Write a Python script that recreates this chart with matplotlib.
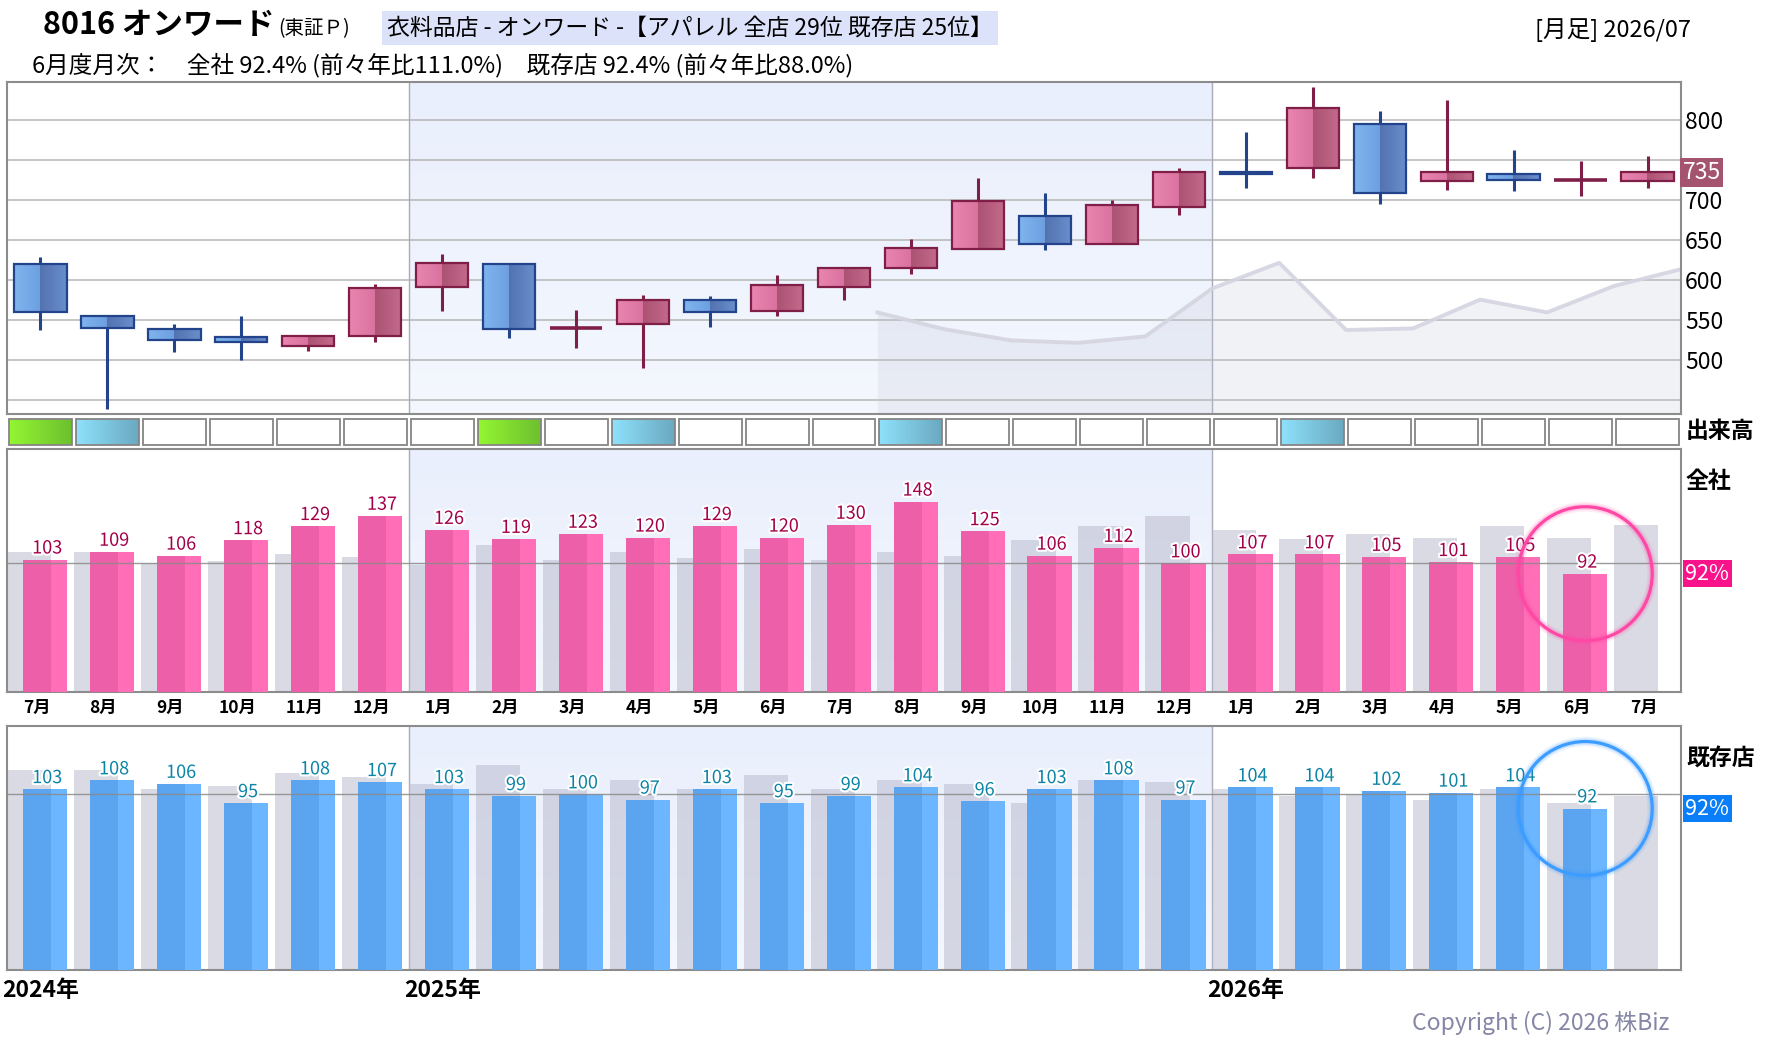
import numpy as np
import matplotlib
matplotlib.use('Agg')
import matplotlib.pyplot as plt
from matplotlib.patches import Rectangle
from matplotlib.colors import LinearSegmentedColormap
import matplotlib.patheffects as pe

plt.rcParams['font.family'] = ['Noto Sans CJK JP', 'DejaVu Sans']

# ---------------- data ----------------
months = ['7月', '8月', '9月', '10月', '11月', '12月',
          '1月', '2月', '3月', '4月', '5月', '6月', '7月', '8月', '9月', '10月', '11月', '12月',
          '1月', '2月', '3月', '4月', '5月', '6月', '7月']
years = ['2024年', '2025年', '2026年']
year_start = [0, 6, 18]

candle_open = [621, 555, 539, 529, 518, 531, 592, 621, 541, 546, 576, 562, 592,
               615, 639, 680, 645, 692, 735, 740, 795, 724, 733, 725, 724]
candle_high = [629, 557, 545, 555, 532, 595, 633, 622, 563, 582, 580, 607, 616,
               652, 728, 709, 700, 740, 785, 842, 812, 825, 763, 749, 755]
candle_low = [538, 439, 511, 500, 512, 523, 562, 528, 516, 491, 542, 555, 576,
              608, 639, 638, 645, 682, 715, 728, 695, 713, 712, 706, 715]
candle_close = [560, 540, 526, 523, 531, 590, 622, 539, 541, 576, 561, 594, 615,
                641, 699, 646, 694, 735, 733, 816, 709, 736, 726, 725, 735]

avg_line = [560, 539, 525, 522, 530, 590, 622, 538, 540, 576, 560, 593, 614]

price_ticks = [450, 500, 550, 600, 650, 700, 750, 800]
price_tick_labels = ['', '500', '550', '600', '650', '700', '', '800']

vol_level = [2, 1, 0, 0, 0, 0, 0, 2, 0, 1, 0, 0, 0, 1, 0, 0, 0, 0, 0, 1, 0, 0, 0, 0, 0]

zensha = [103, 109, 106, 118, 129, 137, 126, 119, 123, 120, 129, 120, 130,
          148, 125, 106, 112, 100, 107, 107, 105, 101, 105, 92, None]
zensha_prev = [109, 109, 100, 102, 107, 105, 99, 114, 103, 109, 104, 111, 103,
               109, 106, 118, 129, 137, 126, 119, 123, 120, 129, 120, 130]
kizon = [103, 108, 106, 95, 108, 107, 103, 99, 100, 97, 103, 95, 99,
         104, 96, 103, 108, 97, 104, 104, 102, 101, 104, 92, None]
kizon_prev = [114, 114, 103, 105, 112, 110, 106, 117, 103, 108, 103, 111, 103,
              108, 106, 95, 108, 107, 103, 99, 100, 97, 103, 95, 99]

title_main = '8016 オンワード'
title_market = '(東証Ｐ)'
title_box = '衣料品店 - オンワード -【アパレル 全店 29位 既存店 25位】'
title_right = '[月足] 2026/07'
subtitle = '6月度月次：　全社 92.4% (前々年比111.0%)　既存店 92.4% (前々年比88.0%)'
copyright_text = 'Copyright (C) 2026 株Biz'

# ---------------- figure ----------------
W, H = 1780, 1054
fig = plt.figure(figsize=(W / 100, H / 100), dpi=100)
fig.patch.set_facecolor('white')


def ax_rect(x0, y0, x1, y1):
    return [x0 / W, 1 - y1 / H, (x1 - x0) / W, (y1 - y0) / H]


def fx(px):
    return px / W


def fy(py):
    return 1 - py / H


n = len(months)
xs = np.arange(n)
y2025_lo = year_start[1] - 0.5
y2025_hi = year_start[2] - 0.5


def shade(ax, ylo, yhi):
    cmap = LinearSegmentedColormap.from_list('bg', ['#f4f7fe', '#e9effc'])
    grad = np.linspace(0, 1, 64).reshape(-1, 1)
    ax.imshow(grad, cmap=cmap, extent=[y2025_lo, y2025_hi, ylo, yhi],
              origin='lower', aspect='auto', zorder=0, interpolation='bilinear')


def grad_rect(ax, x0, x1, y0, y1, stops, zorder):
    cmap = LinearSegmentedColormap.from_list('g', stops)
    grad = np.linspace(0, 1, 128).reshape(1, -1)
    ax.imshow(grad, cmap=cmap, extent=[x0, x1, y0, y1], aspect='auto',
              zorder=zorder, interpolation='nearest')


def style_spines(ax):
    for s in ax.spines.values():
        s.set_color('#8c8c8c')
        s.set_linewidth(1.5)
    ax.set_xticks([])


# ---------------- candle panel ----------------
ax_c = fig.add_axes(ax_rect(7, 82, 1681, 414))
PLO, PHI = 433, 848
shade(ax_c, PLO, PHI)
for yv in price_ticks:
    ax_c.axhline(yv, color='#b5b5b5', lw=1.1, zorder=1)
for xv in (y2025_lo, y2025_hi):
    ax_c.axvline(xv, color='#a9abbb', lw=1, zorder=1)

ma_x = np.arange(n - len(avg_line), n) + 0.5
ax_c.fill_between(ma_x, avg_line, PLO, color='#c3c5d6', alpha=0.22, lw=0, zorder=1.5)
ax_c.plot(ma_x, avg_line, color='#d4d4e1', lw=2.8, alpha=0.9, zorder=2)

pink_stops = [(0, '#e985b0'), (0.499, '#da729f'), (0.5, '#ac5273'), (1, '#c46b8d')]
blue_stops = [(0, '#80b5ee'), (0.499, '#6d9fe0'), (0.5, '#5372b0'), (1, '#6a8ecd')]
bw = 0.78
for i in range(n):
    o, h, l, c = candle_open[i], candle_high[i], candle_low[i], candle_close[i]
    up = c >= o
    edge = '#7f1f48' if up else '#23438a'
    stops = pink_stops if up else blue_stops
    ax_c.plot([i, i], [l, h], color=edge, lw=2.2, zorder=3, solid_capstyle='butt')
    if c == o:
        ax_c.plot([i - bw / 2, i + bw / 2], [o, o], color=edge, lw=2.6, zorder=4,
                  solid_capstyle='butt')
    else:
        lo, hi = min(o, c), max(o, c)
        grad_rect(ax_c, i - bw / 2, i + bw / 2, lo, hi, stops, 4)
        ax_c.add_patch(Rectangle((i - bw / 2, lo), bw, hi - lo, fill=False,
                                 ec=edge, lw=1.6, zorder=5))

ax_c.set_xlim(-0.5, n - 0.5)
ax_c.set_ylim(PLO, PHI)
ax_c.yaxis.tick_right()
ax_c.set_yticks(price_ticks)
ax_c.set_yticklabels(price_tick_labels)
ax_c.tick_params(axis='y', length=0, pad=3, labelsize=16.5)
style_spines(ax_c)

last_price = candle_close[-1]
ax_c.annotate(f'{last_price}', xy=(1, last_price), xycoords=('axes fraction', 'data'),
              xytext=(1, 0), textcoords='offset points', ha='left', va='center',
              fontsize=16.5, color='white', annotation_clip=False, zorder=10,
              bbox=dict(boxstyle='square,pad=0.12', fc='#a4546e', ec='none'))

# ---------------- volume strip ----------------
ax_v = fig.add_axes(ax_rect(7, 418, 1681, 446))
ax_v.set_xlim(-0.5, n - 0.5)
ax_v.set_ylim(0, 1)
ax_v.axis('off')
vol_stops = {2: [(0, '#94f632'), (1, '#6cc02e')], 1: [(0, '#8fe1fc'), (1, '#6aa9c0')]}
for i, lv in enumerate(vol_level):
    x0, w = i - 0.47, 0.94
    if lv:
        grad_rect(ax_v, x0, x0 + w, 0.04, 0.96, vol_stops[lv], 1)
    else:
        ax_v.add_patch(Rectangle((x0, 0.04), w, 0.92, fc='white', ec='none', zorder=1))
    ax_v.add_patch(Rectangle((x0, 0.04), w, 0.92, fill=False, ec='#858585', lw=1.3, zorder=2))


# ---------------- bar panels ----------------
def bar_panel(ax, vals, prev, ymax, c_dark, c_light, lab_color, circ_color, box_color):
    shade(ax, 0, ymax)
    for xv in (y2025_lo, y2025_hi):
        ax.axvline(xv, color='#a9abbb', lw=1, zorder=1)
    ax.bar(xs - 0.5 + 0.33, prev, width=0.66, color='#b7b7cb', alpha=0.5, lw=0, zorder=2)
    idx = [i for i, v in enumerate(vals) if v is not None]
    vv = [vals[i] for i in idx]
    ia = np.array(idx)
    ax.bar(ia - 0.5 + 0.45, vv, width=0.42, color=c_dark, lw=0, zorder=3)
    ax.bar(ia - 0.5 + 0.78, vv, width=0.24, color=c_light, lw=0, zorder=3)
    for i, v in zip(idx, vv):
        ax.annotate(str(v), xy=(i - 0.5 + 0.6, v), xytext=(0, 1.5), textcoords='offset points',
                    ha='center', va='bottom', fontsize=13, color=lab_color, zorder=6,
                    path_effects=[pe.withStroke(linewidth=3, foreground='white')])
    ax.axhline(100, color='#8a8a8a', lw=1, alpha=0.85, zorder=5)
    # highlight latest
    last_i = idx[-1]
    last_v = vals[last_i]
    cx = last_i - 0.5 + 0.57
    for lw_, al in ((7, 0.10), (4.5, 0.2), (2.3, 1.0)):
        ax.scatter([cx], [last_v], s=9300, facecolors='none', edgecolors=circ_color,
                   linewidths=lw_, alpha=al, zorder=7)
    ax.annotate(f'{last_v}%', xy=(1, last_v), xycoords=('axes fraction', 'data'),
                xytext=(3, 0), textcoords='offset points', ha='left', va='center',
                fontsize=15.5, color='white', annotation_clip=False, zorder=10,
                bbox=dict(boxstyle='square,pad=0.12', fc=box_color, ec='none'))
    ax.set_xlim(-0.5, n - 0.5)
    ax.set_ylim(0, ymax)
    ax.set_yticks([])
    style_spines(ax)


ax_z = fig.add_axes(ax_rect(7, 449, 1681, 692))
bar_panel(ax_z, zensha, zensha_prev, 189, '#ee5fa9', '#ff6eb6', '#a3004a', '#ff48a6', '#f9128a')
ax_k = fig.add_axes(ax_rect(7, 726, 1681, 970))
bar_panel(ax_k, kizon, kizon_prev, 139, '#5ba4f0', '#6cb6ff', '#0c84a6', '#3d9cff', '#0a7ef8')

for i, m in enumerate(months):
    ax_z.text(i - 0.06, -0.065, m, transform=ax_z.get_xaxis_transform(), ha='center',
              va='center', fontsize=12.5, fontweight='bold', color='black')
for ys, yl in zip(year_start, years):
    ax_k.text(ys - 0.57, -0.086, yl, transform=ax_k.get_xaxis_transform(), ha='left',
              va='center', fontsize=16.5, fontweight='bold', color='black', clip_on=False)

# ---------------- side labels ----------------
fig.text(fx(1686), fy(431), '出来高', fontsize=16.5, fontweight='bold', ha='left', va='center')
fig.text(fx(1686), fy(482), '全社', fontsize=16.5, fontweight='bold', ha='left', va='center')
fig.text(fx(1686), fy(759), '既存店', fontsize=16.5, fontweight='bold', ha='left', va='center')

# ---------------- header ----------------
renderer = fig.canvas.get_renderer()
t1 = fig.text(fx(43), fy(25), title_main, fontsize=22, fontweight='bold', ha='left', va='center')
bb = t1.get_window_extent(renderer)
fig.text((bb.x1 + 4) / W, fy(29), title_market, fontsize=14, ha='left', va='center')
fig.text(fx(387), fy(28), title_box, fontsize=16.5, ha='left', va='center',
         bbox=dict(boxstyle='square,pad=0.22', fc='#dce2f9', ec='none'))
fig.text(fx(1691), fy(30), title_right, fontsize=17, ha='right', va='center')
fig.text(fx(32), fy(65), subtitle, fontsize=17, ha='left', va='center')

fig.text(fx(1669), fy(1023), copyright_text, fontsize=16.5, color='#8686a6', ha='right', va='center')

fig.savefig('out.png', dpi=100)
